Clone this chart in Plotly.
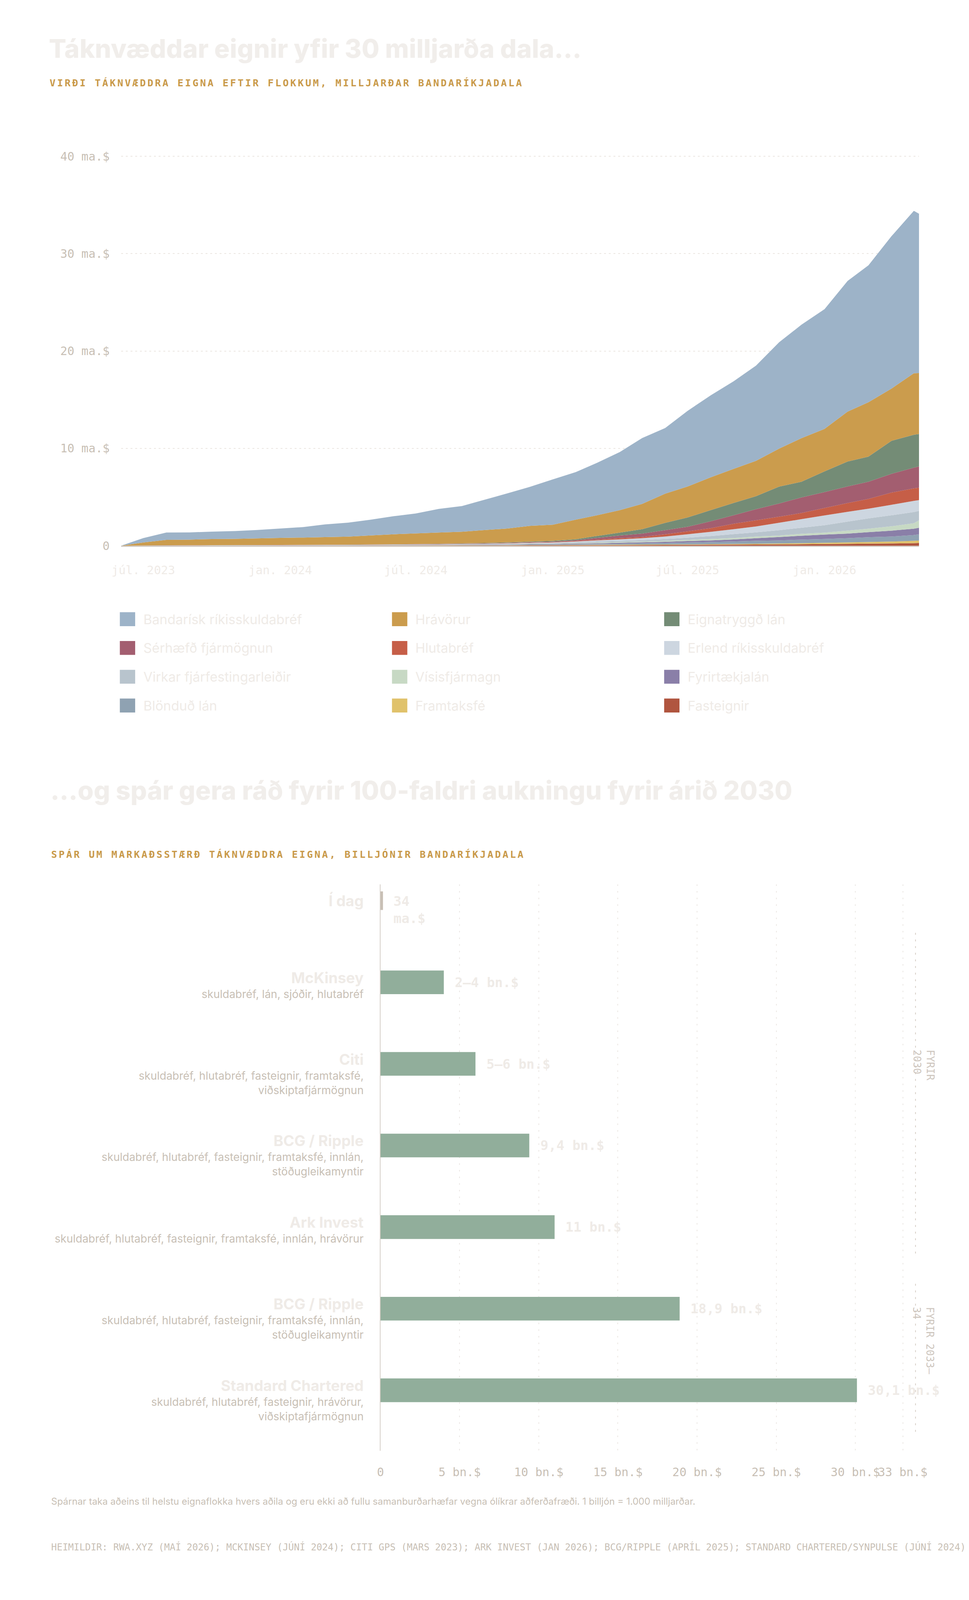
import plotly.graph_objects as go

# the layout is measured on a 2480 x 4560 design; the page is drawn a little shorter
# so that the whole figure stays inside the visible window
W, H_DESIGN = 2480, 4560
H = 4080
SY = H / H_DESIGN

# ---------------- data ----------------
# tokenised assets by class, billions of USD (monthly)
dates = [
    "2023-06-01", "2023-07-01", "2023-08-01", "2023-09-01", "2023-10-01", "2023-11-01",
    "2023-12-01", "2024-01-01", "2024-02-01", "2024-03-01", "2024-04-01", "2024-05-01",
    "2024-06-01", "2024-07-01", "2024-08-01", "2024-09-01", "2024-10-01", "2024-11-01",
    "2024-12-01", "2025-01-01", "2025-02-01", "2025-03-01", "2025-04-01", "2025-05-01",
    "2025-06-01", "2025-07-01", "2025-08-01", "2025-09-01", "2025-10-01", "2025-11-01",
    "2025-12-01", "2026-01-01", "2026-02-01", "2026-03-01", "2026-04-01", "2026-05-01",
    "2026-05-08",
]

us_treasuries = [0, 0.46, 0.75, 0.74, 0.76, 0.80, 0.86, 0.96, 1.08, 1.30, 1.43, 1.61,
                 1.85, 2.04, 2.43, 2.64, 3.11, 3.61, 4.00, 4.65, 4.89, 5.38, 5.97, 6.76,
                 6.74, 7.77, 8.41, 9.00, 9.78, 10.93, 11.65, 12.30, 13.42, 14.06, 15.66, 16.68,
                 16.36]
commodities = [0, 0.31, 0.56, 0.58, 0.63, 0.64, 0.69, 0.72, 0.75, 0.79, 0.83, 0.93,
               1.03, 1.10, 1.16, 1.20, 1.33, 1.43, 1.62, 1.66, 2.01, 2.12, 2.30, 2.60,
               3.00, 3.18, 3.38, 3.50, 3.63, 3.90, 4.48, 4.36, 5.13, 5.59, 5.36, 6.32,
               6.26]
asset_backed = [0, 0, 0, 0, 0, 0, 0, 0, 0, 0, 0.01, 0.01,
                0.01, 0.01, 0.02, 0.03, 0.04, 0.05, 0.06, 0.08, 0.10, 0.20, 0.30, 0.45,
                0.75, 0.95, 1.14, 1.27, 1.33, 1.73, 1.61, 2.13, 2.56, 2.58, 3.39, 3.38,
                3.33]
structured = [0, 0.005, 0.01, 0.01, 0.01, 0.01, 0.01, 0.01, 0.01, 0.01, 0.01, 0.01,
              0.01, 0.02, 0.02, 0.02, 0.03, 0.03, 0.04, 0.05, 0.08, 0.18, 0.27, 0.35,
              0.42, 0.47, 0.71, 0.87, 1.15, 1.36, 1.60, 1.63, 1.70, 1.76, 1.93, 2.13,
              2.19]
equities = [0, 0, 0.005, 0.005, 0.005, 0.005, 0.01, 0.01, 0.01, 0.01, 0.01, 0.01,
            0.01, 0.01, 0.02, 0.02, 0.02, 0.03, 0.03, 0.04, 0.06, 0.07, 0.12, 0.12,
            0.23, 0.30, 0.37, 0.56, 0.63, 0.62, 0.63, 0.77, 0.91, 1.00, 1.25, 1.28,
            1.27]
foreign_bonds = [0, 0.005, 0.01, 0.01, 0.01, 0.01, 0.01, 0.01, 0.01, 0.01, 0.01, 0.01,
                 0.02, 0.02, 0.02, 0.02, 0.03, 0.04, 0.05, 0.06, 0.08, 0.11, 0.16, 0.20,
                 0.25, 0.35, 0.43, 0.50, 0.60, 0.76, 0.88, 1.00, 1.00, 1.00, 1.08, 1.15,
                 1.11]
active_strategies = [0, 0.005, 0.01, 0.01, 0.01, 0.02, 0.02, 0.02, 0.02, 0.02, 0.02, 0.02,
                     0.02, 0.03, 0.03, 0.03, 0.03, 0.04, 0.05, 0.06, 0.08, 0.12, 0.12, 0.15,
                     0.20, 0.23, 0.30, 0.40, 0.43, 0.55, 0.62, 0.76, 0.93, 1.06, 1.13, 1.15,
                     0.97]
venture = [0, 0, 0, 0.005, 0.005, 0.005, 0.005, 0.01, 0.01, 0.01, 0.01, 0.01,
           0.01, 0.01, 0.01, 0.02, 0.02, 0.02, 0.03, 0.03, 0.05, 0.08, 0.08, 0.08,
           0.10, 0.12, 0.15, 0.15, 0.17, 0.15, 0.20, 0.20, 0.30, 0.35, 0.45, 0.56,
           0.76]
corporate_loans = [0, 0.005, 0.005, 0.005, 0.01, 0.01, 0.01, 0.01, 0.01, 0.01, 0.01, 0.01,
                   0.02, 0.02, 0.02, 0.02, 0.03, 0.03, 0.04, 0.05, 0.06, 0.06, 0.10, 0.10,
                   0.12, 0.15, 0.17, 0.22, 0.28, 0.35, 0.40, 0.45, 0.47, 0.52, 0.60, 0.65,
                   0.67]
mixed_loans = [0, 0, 0.005, 0.005, 0.005, 0.005, 0.005, 0.005, 0.01, 0.01, 0.01, 0.02,
               0.02, 0.02, 0.02, 0.03, 0.03, 0.04, 0.05, 0.06, 0.07, 0.08, 0.09, 0.13,
               0.15, 0.19, 0.22, 0.25, 0.30, 0.32, 0.37, 0.40, 0.44, 0.50, 0.52, 0.60,
               0.65]
private_equity = [0, 0, 0, 0, 0, 0, 0, 0, 0, 0.01, 0.01, 0.01,
                  0.01, 0.01, 0.02, 0.02, 0.02, 0.03, 0.03, 0.03, 0.04, 0.05, 0.05, 0.05,
                  0.05, 0.05, 0.06, 0.07, 0.08, 0.09, 0.11, 0.13, 0.15, 0.17, 0.20, 0.24,
                  0.25]
real_estate = [0, 0, 0, 0, 0, 0, 0, 0.01, 0.01, 0.01, 0.01, 0.02,
               0.02, 0.02, 0.02, 0.03, 0.03, 0.03, 0.04, 0.04, 0.05, 0.05, 0.06, 0.07,
               0.08, 0.09, 0.10, 0.11, 0.12, 0.14, 0.15, 0.17, 0.19, 0.21, 0.23, 0.26,
               0.28]

class_names = [
    "Bandarísk ríkisskuldabréf", "Hrávörur", "Eignatryggð lán",
    "Sérhæfð fjármögnun", "Hlutabréf", "Erlend ríkisskuldabréf",
    "Virkar fjárfestingarleiðir", "Vísisfjármagn", "Fyrirtækjalán",
    "Blönduð lán", "Framtaksfé", "Fasteignir",
]
class_series = [
    us_treasuries, commodities, asset_backed, structured, equities, foreign_bonds,
    active_strategies, venture, corporate_loans, mixed_loans, private_equity, real_estate,
]
class_colors = [
    "#9db3c8", "#cb9c4d", "#748c76", "#a35e70", "#c65e47", "#cdd6e0",
    "#b8c4cd", "#c7d9c4", "#8a7fa8", "#8fa2b2", "#e0c26b", "#b0553f",
]

date_ticks = ["2023-07-01", "2024-01-01", "2024-07-01", "2025-01-01", "2025-07-01", "2026-01-01"]
date_labels = ["júl. 2023", "jan. 2024", "júl. 2024", "jan. 2025", "júl. 2025", "jan. 2026"]
value_ticks = [0, 10, 20, 30, 40]
value_labels = ["0", "10 ma.$", "20 ma.$", "30 ma.$", "40 ma.$"]

# forecasts of tokenised market size, trillions of USD
forecasters = ["Í dag", "McKinsey", "Citi", "BCG / Ripple", "Ark Invest", "BCG / Ripple",
               "Standard Chartered"]
scopes = [
    "",
    "skuldabréf, lán, sjóðir, hlutabréf",
    "skuldabréf, hlutabréf, fasteignir, framtaksfé,<br>viðskiptafjármögnun",
    "skuldabréf, hlutabréf, fasteignir, framtaksfé, innlán,<br>stöðugleikamyntir",
    "skuldabréf, hlutabréf, fasteignir, framtaksfé, innlán, hrávörur",
    "skuldabréf, hlutabréf, fasteignir, framtaksfé, innlán,<br>stöðugleikamyntir",
    "skuldabréf, hlutabréf, fasteignir, hrávörur,<br>viðskiptafjármögnun",
]
forecast_values = [0.034, 4, 6, 9.4, 11, 18.9, 30.1]
forecast_labels = ["34 ma.$", "2–4 bn.$", "5–6 bn.$", "9,4 bn.$", "11 bn.$", "18,9 bn.$", "30,1 bn.$"]
forecast_ticks = [0, 5, 10, 15, 20, 25, 30, 33]
forecast_tick_labels = ["0", "5 bn.$", "10 bn.$", "15 bn.$", "20 bn.$", "25 bn.$", "30 bn.$", "33 bn.$"]

# ---------------- style ----------------
SANS = "Inter, Noto Sans, sans-serif"
MONO = "DejaVu Sans Mono, monospace"
PALE = "#efebe7"
MUTED = "#c8bfb5"
GOLD = "#c99a4a"


def px_x(p):
    return p / W


def px_y(p):
    # p is measured on the 4560 px design
    return 1 - p / H_DESIGN


def paper_text(text, x, y, font, xanchor="left", yanchor="middle"):
    return dict(text=text, x=px_x(x), y=px_y(y), xref="paper", yref="paper",
                xanchor=xanchor, yanchor=yanchor, showarrow=False, font=font)


fig = go.Figure()

# stacked areas, smallest class at the bottom
for name, vals, col in reversed(list(zip(class_names, class_series, class_colors))):
    fig.add_trace(go.Scatter(
        x=dates, y=vals, name=name,
        mode="none", stackgroup="rwa", fill="tonexty",
        fillcolor=col, line=dict(width=0),
        showlegend=False, hoverinfo="skip",
        xaxis="x", yaxis="y",
    ))

# forecast bars
bar_colors = [MUTED if i == 0 else "#91ae9b" for i in range(len(forecasters))]
bar_widths = [0.18 if i == 0 else 0.29 for i in range(len(forecasters))]
bar_lines = [10 if i == 0 else 0 for i in range(len(forecasters))]
fig.add_trace(go.Bar(
    x=forecast_values, y=list(range(len(forecasters))), orientation="h",
    width=bar_widths,
    marker=dict(color=bar_colors, line=dict(color=bar_colors, width=bar_lines)),
    showlegend=False, hoverinfo="skip",
    xaxis="x2", yaxis="y2", cliponaxis=False,
))

annotations = []
shapes = []

title_font = dict(family=SANS, size=66, color="#f1eeeb", weight=800)
kicker_font = dict(family=MONO, size=25, color=GOLD, weight=700)

# headings and notes
annotations += [
    paper_text("Táknvæddar eignir yfir 30 milljarða dala...", 93, 130, title_font),
    paper_text('<span style="letter-spacing:4.2px">VIRÐI TÁKNVÆDDRA EIGNA EFTIR FLOKKUM, MILLJARÐAR BANDARÍKJADALA</span>',
               95, 230, kicker_font),
    paper_text("...og spár gera ráð fyrir 100-faldri aukningu fyrir árið 2030", 97, 2262, title_font),
    paper_text('<span style="letter-spacing:4.2px">SPÁR UM MARKAÐSSTÆRÐ TÁKNVÆDDRA EIGNA, BILLJÓNIR BANDARÍKJADALA</span>',
               99, 2446, kicker_font),
    paper_text("Spárnar taka aðeins til helstu eignaflokka hvers aðila og eru ekki að fullu samanburðarhæfar "
               "vegna ólíkrar aðferðafræði. 1 billjón = 1.000 milljarðar.",
               99, 4305, dict(family=SANS, size=24, color=MUTED)),
    paper_text("HEIMILDIR: RWA.XYZ (MAÍ 2026); MCKINSEY (JÚNÍ 2024); CITI GPS (MARS 2023); ARK INVEST (JAN 2026); "
               "BCG/RIPPLE (APRÍL 2025); STANDARD CHARTERED/SYNPULSE (JÚNÍ 2024)",
               99, 4435, dict(family=MONO, size=24, color=MUTED)),
]

# legend grid (3 columns)
for k, (name, col) in enumerate(zip(class_names, class_colors)):
    row, c = divmod(k, 3)
    x0 = 280 + c * 710
    y0 = 1750 + row * 82.7
    shapes.append(dict(type="rect", xref="paper", yref="paper",
                       x0=px_x(x0), x1=px_x(x0 + 40), y0=px_y(y0), y1=px_y(y0 + 40),
                       fillcolor=col, line=dict(width=0)))
    annotations.append(paper_text(name, x0 + 59, y0 + 20, dict(family=SANS, size=34, color=PALE)))

# forecast row labels and values
for i, (who, scope, val, lbl) in enumerate(zip(forecasters, scopes, forecast_values, forecast_labels)):
    title = f'<span style="font-size:38px;font-weight:700;color:{PALE}">{who}</span>'
    if scope:
        annotations.append(dict(
            text=title + "<br>" + f'<span style="font-size:28px">{scope}</span>',
            x=0, y=i, xref="x2", yref="y2", xanchor="right", yanchor="top", align="right",
            xshift=-41, yshift=round(41 * SY), showarrow=False,
            font=dict(family=SANS, size=29, color=MUTED)))
    else:
        annotations.append(dict(
            text=title, x=0, y=i, xref="x2", yref="y2", xanchor="right", yanchor="middle",
            xshift=-41, showarrow=False, font=dict(family=SANS, size=29, color=MUTED)))
    if val < 1:
        annotations.append(dict(text=lbl.replace(" ", "<br>"), x=val, y=i, xref="x2", yref="y2",
                                xanchor="left", yanchor="top", align="left", xshift=30,
                                yshift=round(24 * SY), showarrow=False,
                                font=dict(family=MONO, size=34, color=PALE, weight=700)))
    else:
        annotations.append(dict(text=lbl, x=val, y=i, xref="x2", yref="y2",
                                xanchor="left", yanchor="middle", xshift=26,
                                showarrow=False, font=dict(family=MONO, size=34, color=PALE, weight=700)))

# horizon brackets on the right
for y0, y1, ytxt, txt in [(0.394, 4.375, 1.815, "FYRIR<br>2030"), (4.695, 6.566, 4.967, "FYRIR 2033–<br>34")]:
    shapes.append(dict(type="line", xref="x2", yref="y2", x0=33.8, x1=33.8, y0=y0, y1=y1,
                       line=dict(color="#d6cec6", width=2, dash="5px,12px")))
    annotations.append(dict(text=txt, x=33.8, y=ytxt, xref="x2", yref="y2",
                            xanchor="center", yanchor="top", align="left", textangle=90,
                            xshift=20, showarrow=False,
                            font=dict(family=MONO, size=26, color="#cdc5bd")))

fig.update_layout(
    width=W, height=H,
    margin=dict(l=0, r=0, t=0, b=0),
    paper_bgcolor="white", plot_bgcolor="white",
    hovermode=False, showlegend=False,
    annotations=annotations, shapes=shapes,
    xaxis=dict(
        domain=[px_x(283), px_x(2365)], anchor="y", type="date",
        range=[dates[0], dates[-1]],
        tickvals=date_ticks, ticktext=date_labels, ticks="", tickangle=0,
        showgrid=False, zeroline=False,
        showline=True, linecolor="#d3cbc3", linewidth=3,
        tickfont=dict(family=MONO, size=30, color=PALE), ticklabelstandoff=round(38 * SY),
    ),
    yaxis=dict(
        domain=[px_y(1559), px_y(1559 - 41 * 27.97)], anchor="x",
        range=[0, 41], tickvals=value_ticks, ticktext=value_labels, ticks="",
        showgrid=True, gridcolor="#ebe6e1", gridwidth=2, griddash="5px,7px",
        zeroline=False, showline=False,
        tickfont=dict(family=MONO, size=30, color=MUTED), ticklabelstandoff=28,
    ),
    xaxis2=dict(
        domain=[px_x(960), px_x(2364)], anchor="y2",
        range=[0, 34], tickvals=forecast_ticks, ticktext=forecast_tick_labels, ticks="", tickangle=0,
        showgrid=True, gridcolor="#ebe7e3", gridwidth=2, griddash="4px,13px",
        zeroline=False, showline=False,
        tickfont=dict(family=MONO, size=30, color=MUTED), ticklabelstandoff=round(38 * SY),
    ),
    yaxis2=dict(
        domain=[px_y(4159), px_y(2532)], anchor="x2",
        range=[6.74, -0.2], showticklabels=False, ticks="",
        showgrid=False, zeroline=False,
        showline=True, linecolor="#d6cfc8", linewidth=2,
    ),
)

fig.write_html("out.html")
